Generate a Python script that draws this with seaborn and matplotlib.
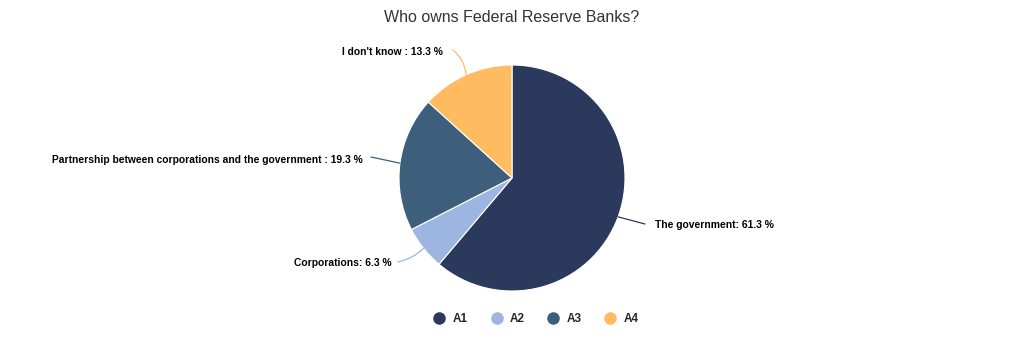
import matplotlib
matplotlib.use('Agg')
import matplotlib.pyplot as plt
import numpy as np
import seaborn as sns
from matplotlib.lines import Line2D

# data
series = ['A1', 'A2', 'A3', 'A4']
answers = ['The government', 'Corporations',
           'Partnership between corporations and the government', "I don't know"]
shares = [61.3, 6.3, 19.3, 13.3]
label_seps = [': ', ': ', ' : ', ' : ']
colors = ['#2b3a5c', '#9cb5e1', '#3d5f7b', '#ffbb5f']

sns.set_theme(style='white')
plt.rcParams['font.family'] = ['Liberation Sans', 'DejaVu Sans']

W, H = 1024, 341
fig = plt.figure(figsize=(W / 100, H / 100), dpi=100)
ax = fig.add_axes([0, 0, 1, 1])

cx, cy, r = 512, H - 178, 113
wedges, _ = ax.pie(shares, colors=colors, startangle=90, counterclock=False,
                   center=(cx, cy), radius=r, frame=True,
                   wedgeprops=dict(edgecolor='white', linewidth=0.8))
ax.set_xlim(0, W)
ax.set_ylim(0, H)
ax.set_aspect('equal')
ax.axis('off')

# where each label sits (pixels from top-left) and which side it hangs on
label_pos = [(655, 225, 'left'), (392, 263, 'right'), (363, 160, 'right'), (443, 52, 'right')]
line_end = [(645, 224), (398, 262), (371, 157), (453, 50)]
rads = [0.0, 0.15, 0.0, -0.2]

for w, name, val, sep, (lx, ly, ha), (ex, ey), rad, col in zip(
        wedges, answers, shares, label_seps, label_pos, line_end, rads, colors):
    mid = np.deg2rad((w.theta1 + w.theta2) / 2)
    px, py = cx + r * np.cos(mid), cy + r * np.sin(mid)
    ax.annotate('', xy=(px, py), xytext=(ex, H - ey),
                arrowprops=dict(arrowstyle='-', color=col, lw=0.9,
                                shrinkA=0, shrinkB=0,
                                connectionstyle=f'arc3,rad={rad}'))
    ax.text(lx, H - ly, f'{name}{sep}{val} %', ha=ha, va='center',
            fontsize=7.35, fontweight='bold', color='black')

fig.text(0.5, 1 - 17 / H, 'Who owns Federal Reserve Banks?', ha='center', va='center',
         fontsize=11.5, color='#333333')

handles = [Line2D([], [], marker='o', linestyle='', markersize=8,
                  markerfacecolor=c, markeredgecolor=c) for c in colors]
fig.legend(handles, series, loc='center', bbox_to_anchor=(533 / W, 1 - 319 / H), ncol=4,
           frameon=False, handletextpad=0.1, columnspacing=1.45,
           prop=dict(size=8.5, weight='bold'))

fig.savefig('out.png', dpi=100, facecolor='white')
